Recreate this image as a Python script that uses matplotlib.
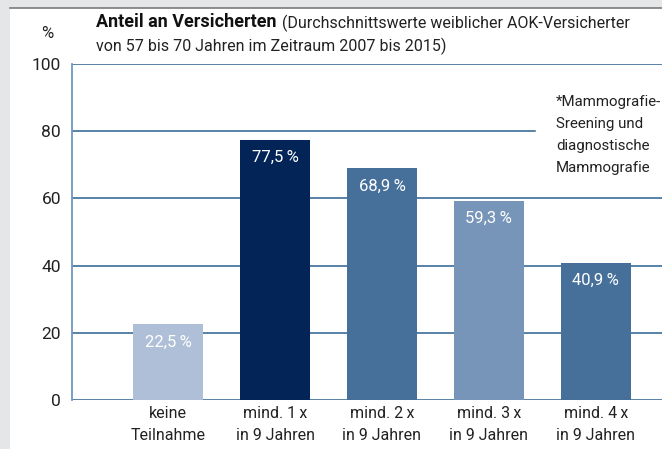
import matplotlib
matplotlib.use("Agg")
import matplotlib.pyplot as plt
from matplotlib.patches import Rectangle
from matplotlib.lines import Line2D

plt.rcParams['font.family'] = ['Roboto', 'DejaVu Sans']

# data
categories = ["keine\nTeilnahme", "mind. 1\u2009x\nin 9 Jahren", "mind. 2\u2009x\nin 9 Jahren",
              "mind. 3\u2009x\nin 9 Jahren", "mind. 4\u2009x\nin 9 Jahren"]
values = [22.5, 77.5, 68.9, 59.3, 40.9]
value_labels = ["22,5\u2009%", "77,5\u2009%", "68,9\u2009%", "59,3\u2009%", "40,9\u2009%"]
yticks = [0, 20, 40, 60, 80, 100]
colors = ["#aebfd7", "#022456", "#46709a", "#7695b8", "#46709a"]

W, H = 662, 449
fig = plt.figure(figsize=(W / 100, H / 100), dpi=100)
fig.patch.set_facecolor("#e5e6e8")

# white panel with dark top line
fig.patches.append(Rectangle((10 / W, 0), 1, (H - 8) / H, transform=fig.transFigure,
                             facecolor="white", edgecolor="none", zorder=0))
fig.lines.append(Line2D([10 / W, 1], [(H - 8) / H] * 2, transform=fig.transFigure,
                        color="#7b7b7b", lw=1.2, zorder=0.5))

ax = fig.add_axes([72 / W, (H - 400) / H, (W - 72) / W, 336 / H])
ax.set_zorder(2)
ax.patch.set_alpha(0)
x = range(len(values))
ax.bar(x, values, width=0.655, color=colors, zorder=3)

ax.set_xlim(-0.9, 4.62)
ax.set_ylim(0, 100)
for s in ["top", "right", "bottom"]:
    ax.spines[s].set_visible(False)
ax.spines["left"].set_color("#6f97bf")
ax.spines["left"].set_linewidth(1.3)

# gridlines (line at 80 stops before the note)
for t in yticks:
    xmax = 0.785 if t == 80 else 1.0
    ax.axhline(t, xmin=0, xmax=xmax, color="#2a5f8f", lw=1.1, zorder=1)

ax.set_yticks(yticks)
ax.set_yticklabels([str(t) for t in yticks], fontsize=12.5, color="#222222")
ax.tick_params(axis="y", length=0, pad=8)
ax.set_xticks(list(x))
ax.set_xticklabels(categories, fontsize=11.5, color="#222222", linespacing=1.6)
ax.tick_params(axis="x", length=0, pad=4)

for i, (v, lab) in enumerate(zip(values, value_labels)):
    ax.text(i, v - 5.2, lab, ha="center", va="center", color="white", fontsize=12, zorder=4)

fig.text(556 / W, 1 - 95 / H, "*Mammografie-\nSreening und\ndiagnostische\nMammografie",
         ha="left", va="top", fontsize=10.8, color="#222222", linespacing=1.72, zorder=3)

fig.text(47 / W, 1 - 33 / H, "%", ha="center", va="center", fontsize=12, color="#222222")
t1 = fig.text(96 / W, 1 - 22 / H, "Anteil an Versicherten", ha="left", va="center",
              fontsize=13, fontweight="bold", color="#111111")
fig.canvas.draw()
bb = t1.get_window_extent()
fig.text((bb.x1 + 5) / W, 1 - 23 / H, "(Durchschnittswerte weiblicher AOK-Versicherter",
         ha="left", va="center", fontsize=11.5, color="#222222")
fig.text(96 / W, 1 - 46 / H, "von 57 bis 70 Jahren im Zeitraum 2007 bis 2015)",
         ha="left", va="center", fontsize=11.5, color="#222222")

fig.savefig("out.png", dpi=100, facecolor=fig.get_facecolor())
